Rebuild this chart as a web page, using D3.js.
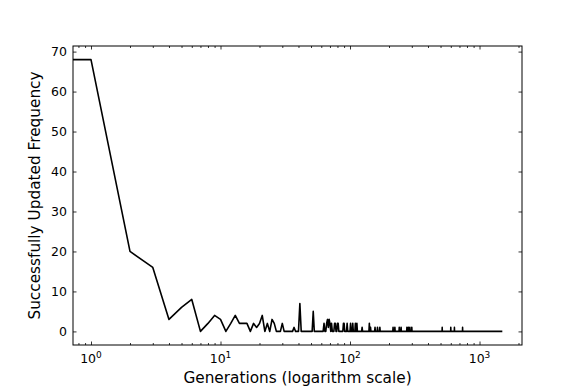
<!DOCTYPE html>
<html>
<head>
<meta charset="utf-8">
<script src="https://cdn.jsdelivr.net/npm/d3@7"></script>
<style>
  html, body { margin: 0; padding: 0; background: #fff; }
  svg { display: block; font-family: "DejaVu Sans", sans-serif; }
</style>
</head>
<body>
<svg id="chart" width="581" height="388"></svg>
<script>
// ---- data ----
const maxGeneration = 1500;
// generations with a non-zero frequency (all other generations are 0)
const generations = [0, 1, 2, 3, 4, 5, 6, 8, 9, 10, 12, 13, 14, 15, 16, 18, 19, 20, 21, 23, 25, 26, 30, 37, 41, 52,
  63, 66, 67, 68, 69, 70, 72, 76, 77, 80, 81, 89, 90, 95, 101, 105, 110, 113, 124, 141, 144, 156, 163, 170,
  215, 222, 240, 248, 275, 282, 290, 300, 515, 600, 640, 740];
const frequencies = [68, 68, 20, 16, 3, 6, 8, 2, 4, 3, 2, 4, 2, 2, 2, 2, 1, 2, 4, 2, 3, 2, 2, 1, 7, 5,
  2, 2, 3, 1, 3, 2, 2, 2, 2, 2, 2, 2, 2, 2, 2, 2, 2, 2, 1, 2, 1, 1, 1, 1,
  1, 1, 1, 1, 1, 1, 1, 1, 1, 1, 1, 1];
const yTicks = [0, 10, 20, 30, 40, 50, 60, 70];
const xMajorTicks = [1, 10, 100, 1000];
const xLabel = "Generations (logarithm scale)";
const yLabel = "Successfully Updated Frequency";

// full series: every generation from 0..maxGeneration
const freqMap = new Map(generations.map((g, i) => [g, frequencies[i]]));
const series = d3.range(0, maxGeneration + 1).map(g => ({ g, f: freqMap.get(g) || 0 }));

// ---- layout ----
const L = 73, R = 522, T = 46, B = 345;
const svg = d3.select("#chart");

const x = d3.scaleLog().domain([Math.pow(10, -0.139), Math.pow(10, 3.328)]).range([L, R]);
const y = d3.scaleLinear().domain([-3.4, 71.4]).range([B, T]);

svg.append("defs").append("clipPath").attr("id", "clip")
  .append("rect").attr("x", L).attr("y", T).attr("width", R - L).attr("height", B - T);

// line
const line = d3.line()
  .x(d => x(Math.max(d.g, 1e-6)))
  .y(d => y(d.f));
svg.append("path")
  .datum(series)
  .attr("clip-path", "url(#clip)")
  .attr("fill", "none")
  .attr("stroke", "#000")
  .attr("stroke-width", 1.6)
  .attr("stroke-linejoin", "round")
  .attr("d", line);

// minor x ticks
const xMinor = [];
[0.1, 1, 10, 100, 1000].forEach(dec => {
  for (let k = 2; k <= 9; k++) {
    const v = dec * k;
    if (v > x.domain()[0] && v < x.domain()[1]) xMinor.push(v);
  }
});

const axisG = svg.append("g");
const xAxisBottom = d3.axisBottom(x).tickValues(xMajorTicks).tickSize(-3.5).tickFormat("");
const xAxisBottomMinor = d3.axisBottom(x).tickValues(xMinor).tickSize(-2).tickFormat("");
const xAxisTop = d3.axisTop(x).tickValues(xMajorTicks).tickSize(-3.5).tickFormat("");
const xAxisTopMinor = d3.axisTop(x).tickValues(xMinor).tickSize(-2).tickFormat("");
const yAxisLeft = d3.axisLeft(y).tickValues(yTicks).tickSize(-3.5).tickFormat("");
const yAxisRight = d3.axisRight(y).tickValues(yTicks).tickSize(-3.5).tickFormat("");

function styleAxis(g) {
  g.select(".domain").remove();
  g.selectAll(".tick line").attr("stroke", "#000").attr("stroke-width", 0.8);
}
axisG.append("g").attr("transform", `translate(0,${B})`).call(xAxisBottom).call(styleAxis);
axisG.append("g").attr("transform", `translate(0,${B})`).call(xAxisBottomMinor).call(styleAxis);
axisG.append("g").attr("transform", `translate(0,${T})`).call(xAxisTop).call(styleAxis);
axisG.append("g").attr("transform", `translate(0,${T})`).call(xAxisTopMinor).call(styleAxis);
axisG.append("g").attr("transform", `translate(${L},0)`).call(yAxisLeft).call(styleAxis);
axisG.append("g").attr("transform", `translate(${R},0)`).call(yAxisRight).call(styleAxis);

// frame
svg.append("rect")
  .attr("x", L).attr("y", T).attr("width", R - L).attr("height", B - T)
  .attr("fill", "none").attr("stroke", "#000").attr("stroke-width", 1);

// y tick labels
svg.append("g").selectAll("text").data(yTicks).join("text")
  .attr("x", L - 6).attr("y", d => y(d))
  .attr("dy", "0.36em")
  .attr("text-anchor", "end")
  .attr("font-size", 12.5)
  .attr("fill", "#000")
  .text(d => d);

// x tick labels 10^n
const xl = svg.append("g").selectAll("text").data(xMajorTicks).join("text")
  .attr("x", d => x(d)).attr("y", B + 18)
  .attr("text-anchor", "middle")
  .attr("font-size", 12.5)
  .attr("fill", "#000");
xl.append("tspan").text("10");
xl.append("tspan").attr("font-size", 9).attr("dy", -5).text(d => Math.round(Math.log10(d)));

// axis labels
svg.append("text")
  .attr("x", (L + R) / 2).attr("y", 383)
  .attr("text-anchor", "middle").attr("font-size", 15.3).attr("fill", "#000")
  .text(xLabel);
svg.append("text")
  .attr("transform", `translate(40,${(T + B) / 2}) rotate(-90)`)
  .attr("text-anchor", "middle").attr("font-size", 15.3).attr("fill", "#000")
  .text(yLabel);
</script>
</body>
</html>
